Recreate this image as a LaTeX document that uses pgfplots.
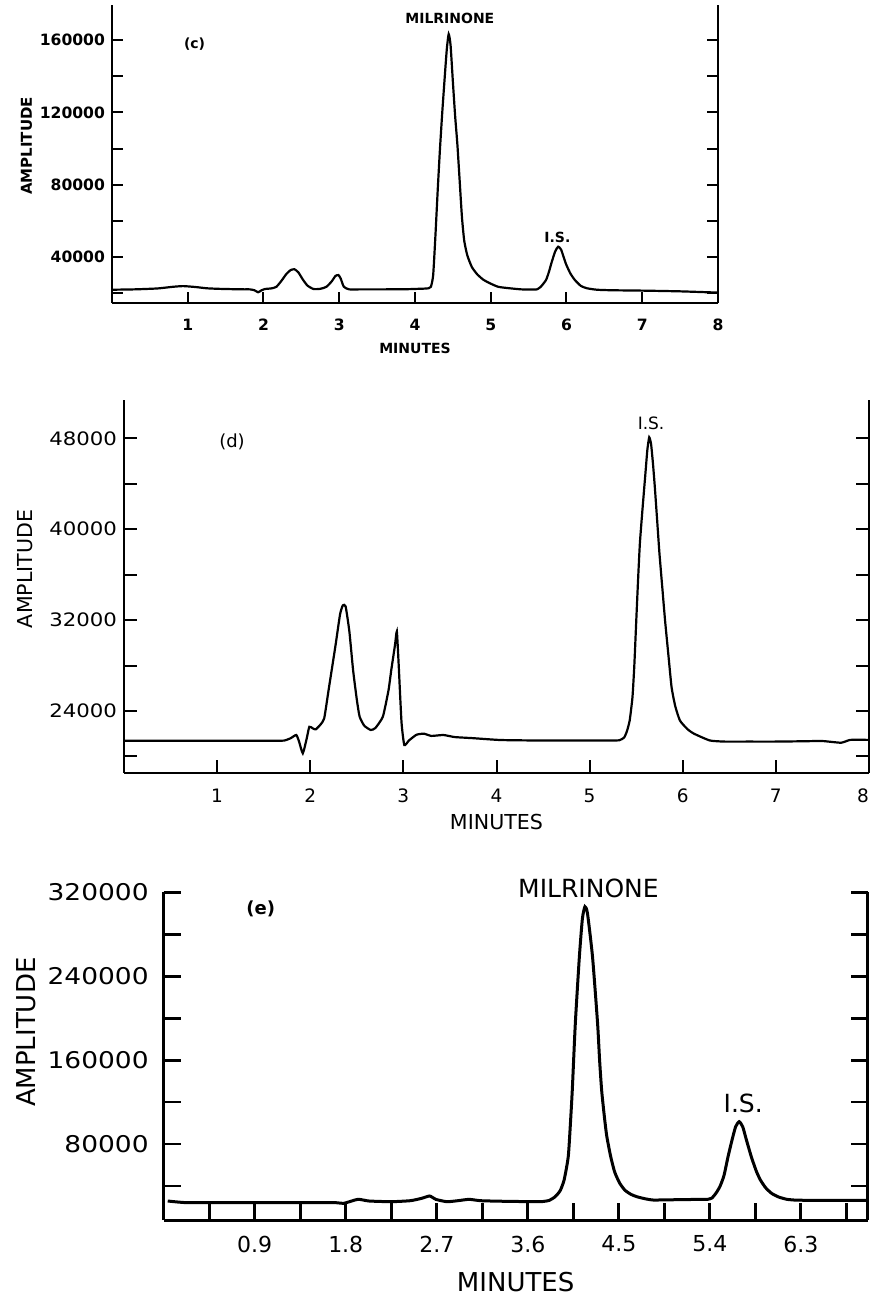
\documentclass[border=0pt]{standalone}
\usepackage{fontspec}
\setmainfont{DejaVu Sans}
\newfontfamily\widesans[FakeStretch=1.15]{DejaVu Sans}
\usepackage{pgfplots}
\pgfplotsset{compat=1.18}
\newcommand{\fs}[1]{\fontsize{#1}{#1}\selectfont}

\pgfplotsset{
  chrom/.style={
    scale only axis, clip=false,
    axis x line*=bottom, axis y line*=box,
    tick align=inside, yticklabel pos=left,
    scaled y ticks=false, scaled x ticks=false,
    xmin=0,
    xticklabel style={yshift=-4.4pt},
  },
}

\begin{document}
\begin{tikzpicture}
\path[use as bounding box] (0,0) rectangle (435.5pt,-648pt);

% ---------------- (c) ----------------
\begin{axis}[chrom,
  at={(56pt,-151.5pt)}, anchor=south west,
  width=303pt, height=149pt,
  xmax=8, ymin=14550, ymax=179400,
  xtick={1,2,3,4,5,6,7,8},
  xticklabels={1,2,3,4,5,6,7,8},
  ytick={40000,80000,120000,160000},
  yticklabels={40000,80000,120000,160000},
  minor ytick={20000,60000,100000,140000},
  major tick length=5.5pt, minor tick length=5.5pt,
  axis line style={line width=1pt},
  every tick/.style={black, line width=1pt},
  tick label style={font=\bfseries\fs{7.8}},
  xlabel={MINUTES}, ylabel={AMPLITUDE},
  xlabel style={at={(axis description cs:0.5,-0.151)}, anchor=center, font=\bfseries\fs{7}},
  ylabel style={at={(axis description cs:-0.141,0.527)}, anchor=center, font=\bfseries\fs{7.5}},
]
\addplot[black, line width=1.1pt, smooth, tension=0.35] coordinates {
 (0,21900) (0.3,22100) (0.6,22600) (0.8,23500) (0.94,23900) (1.1,23400) (1.25,22700)
 (1.4,22400) (1.6,22200) (1.75,22100) (1.82,22100) (1.88,21600) (1.93,20500) (1.97,21500) (2.02,22300)
 (2.1,22600) (2.17,23500) (2.24,27000) (2.30,30500) (2.36,32800) (2.41,33200) (2.46,31500)
 (2.52,27500) (2.58,24200) (2.66,22300) (2.75,22400) (2.83,23500) (2.90,26500) (2.95,29500)
 (2.99,30000) (3.02,28000) (3.06,23600) (3.13,22100) (3.3,22100) (3.6,22100) (3.9,22200)
 (4.05,22400) (4.12,22500) (4.18,22700) (4.21,23500)
 (4.24,30000) (4.27,52000) (4.30,77000) (4.33,100000) (4.36,120000) (4.39,138000)
 (4.42,155000) (4.445,163300) (4.47,157000) (4.50,137000) (4.53,118000) (4.56,102000)
 (4.59,82000) (4.62,62000) (4.65,49000) (4.69,41000) (4.75,34500) (4.82,30500) (4.90,27500)
 (4.99,25450) (5.1,23500) (5.25,22700)
 (5.4,22100) (5.5,22000) (5.56,22000) (5.61,22100) (5.66,23500) (5.73,27300) (5.77,32000)
 (5.80,36500) (5.85,43000) (5.89,45700) (5.93,44000) (5.99,36500) (6.05,31000) (6.11,27300)
 (6.19,24000) (6.27,22700) (6.4,21900) (6.6,21600) (7.0,21400) (7.5,21000) (8.0,20300)
};
\node[font=\bfseries\fs{7}] at (axis cs:4.46,172200) {MILRINONE};
\node[font=\bfseries\fs{7}] at (axis cs:1.09,157800) {(c)};
\node[font=\bfseries\fs{7}] at (axis cs:5.88,51000) {I.S.};
\end{axis}

% ---------------- (d) ----------------
\begin{axis}[chrom,
  at={(62pt,-386.35pt)}, anchor=south west,
  width=372.5pt, height=186.35pt,
  xmax=8, ymin=18560, ymax=51380,
  xtick={1,2,3,4,5,6,7,8},
  xticklabels={1,2,3,4,5,6,7,\makebox[0pt][r]{8}},
  ytick={24000,32000,40000,48000},
  yticklabels={24000,32000,40000,48000},
  minor ytick={20000,28000,36000,44000},
  major tick length=6.5pt, minor tick length=6.5pt,
  axis line style={line width=1pt},
  every tick/.style={black, line width=1pt},
  xticklabel style={font=\fs{9.25}},
  yticklabel style={font=\widesans\fs{9.25}},
  xlabel={MINUTES}, ylabel={AMPLITUDE},
  xlabel style={at={(axis description cs:0.5,-0.1315)}, anchor=center, font=\fs{10.3}},
  ylabel style={at={(axis description cs:-0.1329,0.547)}, anchor=center, font=\fs{10.3}},
]
\addplot[black, line width=1.1pt, smooth, tension=0.3] coordinates {
 (0,21380) (0.5,21380) (1.0,21380) (1.4,21380) (1.6,21380) (1.72,21390) (1.79,21600)
 (1.85,21880) (1.88,21300) (1.92,20270) (1.96,21500)
 (1.99,22600) (2.03,22450) (2.06,22380) (2.11,22800) (2.15,23350) (2.20,26000) (2.27,29700)
 (2.32,32500) (2.35,33300) (2.38,33200) (2.42,31000) (2.46,27600) (2.50,25000) (2.53,23500)
 (2.58,22700) (2.65,22320) (2.70,22500) (2.78,23500) (2.84,25800) (2.87,27600) (2.91,29800)
 (2.93,31000) (2.95,28000) (2.98,23000) (3.01,21000) (3.06,21400) (3.14,21900) (3.22,22000)
 (3.30,21800) (3.43,21880) (3.55,21700) (3.75,21600) (4.04,21440) (4.4,21400) (4.8,21400)
 (5.1,21400) (5.25,21400) (5.32,21420) (5.37,21650) (5.40,22200)
 (5.43,23150) (5.46,25200) (5.48,28000) (5.50,31800) (5.52,35500) (5.54,38800) (5.57,42000)
 (5.60,45000) (5.62,47000) (5.64,48100) (5.66,47500) (5.68,45800) (5.70,43730) (5.725,40800)
 (5.75,37850) (5.78,34900) (5.81,31970) (5.845,29000) (5.88,26090) (5.92,24400) (5.97,23150)
 (6.05,22400) (6.12,22000) (6.29,21400) (6.45,21300) (6.7,21300) (7.0,21300) (7.3,21330)
 (7.5,21350) (7.7,21200) (7.8,21450) (8.0,21450)
};
\node[font=\fs{9}] at (axis cs:1.16,47670) {(d)};
\node[font=\fs{8.5}] at (axis cs:5.66,49320) {I.S.};
\end{axis}

% ---------------- (e) ----------------
\begin{axis}[chrom,
  at={(81.85pt,-610pt)}, anchor=south west,
  width=351.95pt, height=163.85pt,
  xmax=6.96, ymin=7530, ymax=320000,
  xtick={0.9,1.8,2.7,3.6,4.5,5.4,6.3},
  xticklabels={0.9,1.8,2.7,3.6,4.5,5.4,6.3},
  minor xtick={0.45,1.35,2.25,3.15,4.05,4.95,5.85,6.75},
  ytick={80000,160000,240000,320000},
  yticklabels={80000,160000,240000,320000},
  minor ytick={40000,120000,200000,280000},
  major tick length=8.5pt, minor tick length=8.5pt,
  axis line style={line width=1.5pt},
  every tick/.style={black, line width=1.4pt},
  xticklabel style={font=\fs{11}},
  yticklabel style={font=\widesans\fs{11.5}, xshift=-4pt},
  xlabel={MINUTES}, ylabel={AMPLITUDE},
  xlabel style={at={(axis description cs:0.5,-0.189)}, anchor=center, font=\fs{13}},
  ylabel style={at={(axis description cs:-0.195,0.573)}, anchor=center, font=\fs{13}},
]
\addplot[black, line width=1.5pt, smooth, tension=0.35] coordinates {
 (0.04,25650) (0.23,24060) (0.6,24080) (1.0,24100) (1.4,24080) (1.70,24060) (1.78,23420)
 (1.92,27240) (2.03,25650)
 (2.25,25010) (2.44,25970) (2.55,28200) (2.63,30420) (2.69,27240) (2.80,25010) (2.91,25970)
 (3.02,27240) (3.13,25970) (3.3,25500) (3.5,25200) (3.65,25000) (3.74,25100) (3.81,26200)
 (3.87,29700) (3.92,35500) (3.96,46000) (4.00,67900) (4.02,97000) (4.04,131500)
 (4.07,195100) (4.11,258600) (4.14,295000) (4.165,306300) (4.19,300000) (4.24,258600)
 (4.29,195100) (4.31,160000) (4.33,131500) (4.355,108000) (4.38,88000) (4.42,67900)
 (4.46,53000) (4.51,42500) (4.56,36000) (4.62,32000) (4.68,29700) (4.76,27800) (4.84,26600)
 (5.0,26800) (5.15,27000) (5.28,27200) (5.34,27250) (5.38,27300) (5.42,28500) (5.46,33000)
 (5.50,39500) (5.54,50000) (5.58,67900) (5.62,84000) (5.655,96500) (5.69,101300)
 (5.725,96500) (5.76,84500) (5.81,67900) (5.86,54000) (5.90,45700) (5.95,38500)
 (6.01,33000) (6.08,29500) (6.16,27300) (6.25,26500) (6.4,26300) (6.6,26300) (6.8,26300)
 (6.96,26300)
};
\node[font=\fs{12.5}] at (axis cs:4.20,323800) {MILRINONE};
\node[font=\fs{12.5}] at (axis cs:5.73,118800) {I.S.};
\node[font=\bfseries\fs{9}] at (axis cs:0.96,304700) {(e)};
\end{axis}
\end{tikzpicture}
\end{document}
